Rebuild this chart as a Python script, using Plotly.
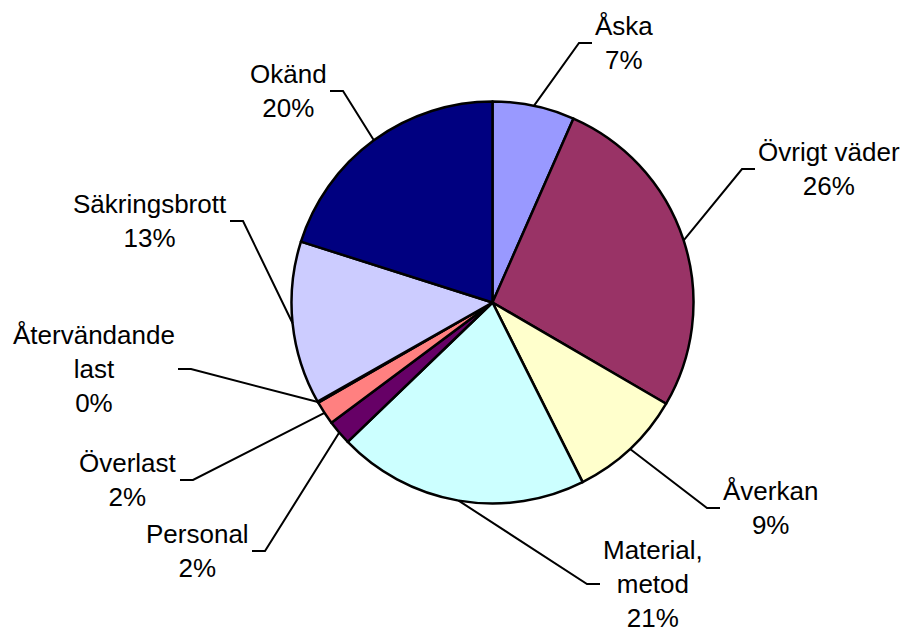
import math
import plotly.graph_objects as go

# ---- data ----
categories = ["Åska", "Övrigt väder", "Åverkan", "Material, metod", "Personal",
              "Överlast", "Återvändande last", "Säkringsbrott", "Okänd"]
values = [6.6, 26.8, 9.2, 20.2, 2.0, 1.9, 0.1, 13.1, 20.1]
pct_labels = ["7%", "26%", "9%", "21%", "2%", "2%", "0%", "13%", "20%"]
display_names = ["Åska", "Övrigt väder", "Åverkan", "Material,<br>metod", "Personal",
                 "Överlast", "Återvändande<br>last", "Säkringsbrott", "Okänd"]

# ---- style / layout ----
colors = ["#9999FF", "#993366", "#FFFFCC", "#CCFFFF", "#660066",
          "#FF8080", "#0066CC", "#CCCCFF", "#000080"]
W, H = 903, 630
CX, CY, R = 492.5, 302.5, 201.0        # pie centre / radius in pixels
# elbow point next to each label (pixels) and side of text (+1 right, -1 left)
elbow_pts = [(592, 43), (755, 169), (720, 508), (600, 584), (252, 551),
             (180, 480), (178, 369), (230, 221), (330, 91)]
text_side = [1, 1, 1, 1, -1, -1, -1, -1, -1]
ELBOW_LEN = 13
FONT = dict(family="Liberation Sans, Arial, sans-serif", size=26, color="black")


def px(x):
    return x / W


def py(y):
    return 1 - y / H


fig = go.Figure(go.Pie(
    labels=categories, values=values, sort=False, direction="clockwise",
    rotation=0, textinfo="none", hoverinfo="label+percent",
    marker=dict(colors=colors, line=dict(color="black", width=2.5)),
    domain=dict(x=[px(CX - R), px(CX + R)], y=[py(CY + R), py(CY - R)]),
    showlegend=False,
))

total = sum(values)
cum = 0.0
shapes, annotations = [], []
for i, v in enumerate(values):
    mid = (cum + v / 2) / total * 2 * math.pi
    cum += v
    ax, ay = CX + R * math.sin(mid), CY - R * math.cos(mid)
    ex, ey = elbow_pts[i]
    s = text_side[i]
    ox = ex - s * ELBOW_LEN
    shapes.append(dict(
        type="path", xref="paper", yref="paper",
        path=f"M {px(ex)},{py(ey)} L {px(ox)},{py(ey)} L {px(ax)},{py(ay)}",
        line=dict(color="black", width=2),
    ))
    annotations.append(dict(
        x=px(ex + s * 2), y=py(ey), xref="paper", yref="paper",
        xanchor="left" if s > 0 else "right", yanchor="middle",
        text=f"{display_names[i]}<br>{pct_labels[i]}", showarrow=False,
        align="center", font=FONT, borderpad=0,
    ))

fig.update_layout(
    width=W, height=H, margin=dict(l=0, r=0, t=0, b=0),
    paper_bgcolor="white", plot_bgcolor="white",
    shapes=shapes, annotations=annotations,
)
fig.write_html("out.html", config={"displayModeBar": False},
               post_script="document.body.style.margin='0';"
                           "document.body.style.overflow='hidden';")
